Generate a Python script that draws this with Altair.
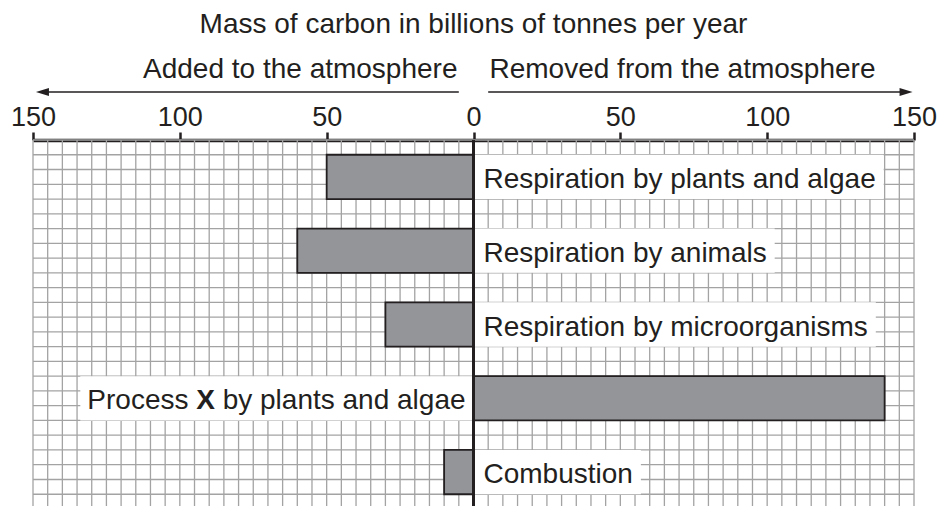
import altair as alt
import pandas as pd
import numpy as np

# ---------------- data ----------------
processes = [
    "Respiration by plants and algae",
    "Respiration by animals",
    "Respiration by microorganisms",
    "Process X by plants and algae",
    "Combustion",
]
bold_words = ["", "", "", "X", ""]
# negative = added to the atmosphere, positive = removed from it
carbon = [-50, -60, -30, 140, -10]

tick_values = [-150, -100, -50, 0, 50, 100, 150]
title_text = "Mass of carbon in billions of tonnes per year"
left_caption = "Added to the atmosphere"
right_caption = "Removed from the atmosphere"

# ---------------- layout / style ----------------
W = 881
ROWS = 25
ROW_PX = 14.75
H = round(ROWS * ROW_PX)
PXU = W / 300.0
FONT = "Liberation Sans"
FS = 28
INK = "#231f20"
GRID = "#a3a3a3"

# Arial / Liberation Sans advance widths (1/1000 em)
AW = {" ": 278, "A": 667, "C": 722, "M": 833, "P": 667, "R": 722, "X": 667,
      "a": 556, "b": 556, "c": 500, "d": 556, "e": 556, "f": 278, "g": 556,
      "h": 556, "i": 222, "l": 222, "m": 833, "n": 556, "o": 556, "p": 556,
      "r": 333, "s": 500, "t": 278, "u": 556, "v": 500, "y": 500}


def tw(s, size=FS):
    return sum(AW.get(c, 556) for c in s) * size / 1000.0


bars = pd.DataFrame({
    "process": processes,
    "carbon": carbon,
    "zero": 0,
    "r0": [1 + 5 * i for i in range(len(processes))],
    "r1": [4 + 5 * i for i in range(len(processes))],
})

boxes, segs = [], []
for i, (lab, val, bw) in enumerate(zip(processes, carbon, bold_words)):
    w = tw(lab)
    if val < 0:
        start = 10.0
        boxes.append({"b0": 0, "b1": (10 + w + 8) / PXU, "r0": 1 + 5 * i, "r1": 4 + 5 * i})
    else:
        start = -8.0 - w
        boxes.append({"b0": -(8 + w + 7) / PXU, "b1": 0, "r0": 1 + 5 * i, "r1": 4 + 5 * i})
    ymid = 2.5 + 5 * i
    if bw:
        pre, post = lab.split(bw, 1)
        segs.append({"t": pre.strip(), "x": start / PXU, "y": ymid, "bold": 0})
        segs.append({"t": bw, "x": (start + tw(pre)) / PXU, "y": ymid, "bold": 1})
        segs.append({"t": post.strip(), "x": (start + tw(pre + bw + " ")) / PXU, "y": ymid, "bold": 0})
    else:
        segs.append({"t": lab, "x": start / PXU, "y": ymid, "bold": 0})
boxes = pd.DataFrame(boxes)
segs = pd.DataFrame(segs)

xscale = alt.Scale(domain=[-150, 150], nice=False, zero=False)
yscale = alt.Scale(domain=[0, ROWS], nice=False, zero=False, reverse=True)
xaxis = alt.Axis(
    orient="top", values=tick_values, labelExpr="abs(datum.value)", title=None,
    grid=False, domainColor=INK, domainWidth=3.5, tickColor=INK, tickWidth=2.5,
    tickSize=8, labelFont=FONT, labelFontSize=27, labelColor=INK, labelPadding=1,
    labelFlush=False, labelOverlap=False,
)


def X(f):
    return alt.X(f"{f}:Q", scale=xscale, axis=xaxis)


def Y(f):
    return alt.Y(f"{f}:Q", scale=yscale, axis=None)


grid_v = alt.Chart(pd.DataFrame({"gx": np.arange(-150, 151, 5)})).mark_rule(
    color=GRID, strokeWidth=1.3).encode(x=X("gx"))
grid_h = alt.Chart(pd.DataFrame({"gy": np.arange(0, ROWS + 1)})).mark_rule(
    color=GRID, strokeWidth=1.3).encode(y=Y("gy"))

box_layer = alt.Chart(boxes).mark_rect(fill="white", stroke=None).encode(
    x=X("b0"), x2="b1", y=Y("r0"), y2="r1")

bar_layer = alt.Chart(bars).mark_rect(fill="#939598", stroke=INK, strokeWidth=1.8).encode(
    x=X("zero"), x2="carbon", y=Y("r0"), y2="r1")

zero_line = alt.Chart(pd.DataFrame({"z": [0]})).mark_rule(color=INK, strokeWidth=3).encode(x=X("z"))

txt_norm = alt.Chart(segs).transform_filter("datum.bold == 0").mark_text(
    align="left", baseline="alphabetic", dy=11, font=FONT, fontSize=FS, color=INK).encode(
    x=X("x"), y=Y("y"), text="t:N")
txt_bold = alt.Chart(segs).transform_filter("datum.bold == 1").mark_text(
    align="left", baseline="alphabetic", dy=11, font=FONT, fontSize=FS, fontWeight="bold",
    color=INK).encode(x=X("x"), y=Y("y"), text="t:N")

title_layer = alt.Chart(pd.DataFrame({"x": [0], "t": [title_text]})).mark_text(
    align="center", baseline="alphabetic", font=FONT, fontSize=FS, color=INK).encode(
    x=X("x"), y=alt.value(-107), text="t:N")
cap_left = alt.Chart(pd.DataFrame({"x": [0], "t": [left_caption]})).mark_text(
    align="right", baseline="alphabetic", dx=-16, font=FONT, fontSize=FS, color=INK).encode(
    x=X("x"), y=alt.value(-62), text="t:N")
cap_right = alt.Chart(pd.DataFrame({"x": [0], "t": [right_caption]})).mark_text(
    align="left", baseline="alphabetic", dx=16, font=FONT, fontSize=FS, color=INK).encode(
    x=X("x"), y=alt.value(-62), text="t:N")

arrows = pd.DataFrame({"a0": [-5, 5], "a1": [-147, 147]})
arrow_lines = alt.Chart(arrows).mark_rule(color=INK, strokeWidth=1.6).encode(
    x=X("a0"), x2="a1", y=alt.value(-48))
head_l = alt.Chart(pd.DataFrame({"tip": [-149]})).mark_point(
    shape="M -1 0 L 1 -0.6 L 1 0.6 Z", size=169, filled=True, color=INK, opacity=1,
    xOffset=6.5).encode(x=X("tip"), y=alt.value(-48))
head_r = alt.Chart(pd.DataFrame({"tip": [149.5]})).mark_point(
    shape="M 1 0 L -1 -0.6 L -1 0.6 Z", size=169, filled=True, color=INK, opacity=1,
    xOffset=-6.5).encode(x=X("tip"), y=alt.value(-48))

chart = alt.layer(
    grid_v, grid_h, box_layer, bar_layer, zero_line, txt_norm, txt_bold,
    title_layer, cap_left, cap_right, arrow_lines, head_l, head_r,
).properties(
    width=W, height=H,
    autosize=alt.AutoSizeParams(type="none"),
    padding={"left": 25, "top": 132, "right": 24, "bottom": 0},
    background="white",
).configure_view(stroke=None)

chart.save("out.html", embed_options={"renderer": "svg", "actions": False})
